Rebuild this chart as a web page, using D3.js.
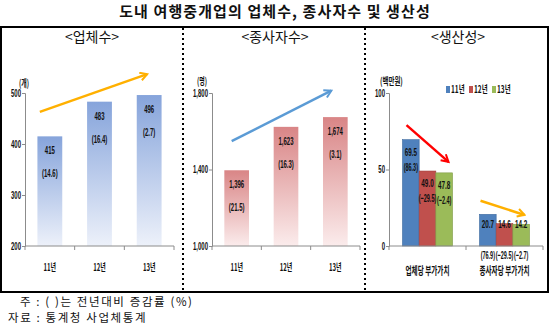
<!DOCTYPE html>
<html><head><meta charset="utf-8">
<script src="https://cdn.jsdelivr.net/npm/d3@7"></script>
<style>body{margin:0;background:#fff}svg{display:block}</style>
</head><body>
<script>
// ---------- data ----------
const years = ["11년", "12년", "13년"];
const firmCounts = [415, 483, 496];
const firmChange = [14.6, 16.4, 2.7];
const workerCounts = [1396, 1623, 1674];
const workerChange = [21.5, 16.3, 3.1];
const prodCategories = ["업체당 부가가치", "종사자당 부가가치"];
const valuePerFirm = [69.5, 49.0, 47.8];
const valuePerFirmChange = [86.3, -29.5, -2.4];
const valuePerWorker = [20.7, 14.6, 14.2];
const valuePerWorkerChange = [76.9, -29.5, -2.7];
const firmTicks = [200, 300, 400, 500];
const workerTicks = [1000, 1400, 1800];
const prodTicks = [0, 50, 100];
const titleText = "도내 여행중개업의 업체수, 종사자수 및 생산성";
const panelTitles = ["<업체수>", "<종사자수>", "<생산성>"];
const units = ["(개)", "(명)", "(백만원)"];
const notes = ["주 : ( )는 전년대비 증감률 (%)", "자료 : 통계청 사업체통계"];

// ---------- setup ----------
const W = 550, H = 325;
const KR = "'Noto Sans CJK KR','Noto Sans',sans-serif";
const NUM = "'Liberation Sans',Arial,'Noto Sans CJK KR',sans-serif";
const svg = d3.select("body").append("svg").attr("width", W).attr("height", H);
const defs = svg.append("defs");

function sq(parent, x, y, text, o = {}) {
  const g = parent.append("g").attr("transform", `translate(${x},${y}) scale(${o.sx || 1},1)`);
  return g.append("text").text(text)
    .attr("text-anchor", o.anchor || "middle")
    .attr("font-family", o.family || NUM)
    .attr("font-size", o.size || 10)
    .attr("font-weight", o.weight || "bold")
    .attr("fill", o.fill || "#111");
}

function grad(id, top, bottom) {
  const g = defs.append("linearGradient").attr("id", id)
    .attr("x1", 0).attr("y1", 0).attr("x2", 0).attr("y2", 1);
  g.append("stop").attr("offset", "0%").attr("stop-color", top);
  g.append("stop").attr("offset", "100%").attr("stop-color", bottom);
}
grad("gBlue", "#86a4db", "#edf1fa");
grad("gRed", "#d98586", "#fbecec");

function marker(id, color) {
  defs.append("marker").attr("id", id)
    .attr("viewBox", "0 0 10 10").attr("refX", 8).attr("refY", 5)
    .attr("markerWidth", 10).attr("markerHeight", 10)
    .attr("markerUnits", "userSpaceOnUse").attr("orient", "auto")
    .append("path").attr("d", "M1,1 L8,5 L1,9")
    .attr("fill", "none").attr("stroke", color).attr("stroke-width", 2);
}
marker("mOrange", "#ffb000");
marker("mBlue", "#5b9bd5");
marker("mRed", "#ff0000");

function arrow(x1, y1, x2, y2, color, mid) {
  svg.append("line").attr("x1", x1).attr("y1", y1).attr("x2", x2).attr("y2", y2)
    .attr("stroke", color).attr("stroke-width", 2.5).attr("marker-end", `url(#${mid})`);
}

// ---------- title & frame ----------
svg.append("text").attr("x", 275).attr("y", 17).attr("text-anchor", "middle")
  .attr("font-family", KR).attr("font-size", 15).attr("font-weight", "bold")
  .attr("letter-spacing", 1.1).attr("fill", "#111").text(titleText);

svg.append("rect").attr("x", 1).attr("y", 27).attr("width", 547).attr("height", 265)
  .attr("fill", "none").attr("stroke", "#000").attr("stroke-width", 2);
[183, 365].forEach(x => svg.append("line").attr("x1", x).attr("x2", x).attr("y1", 28).attr("y2", 291)
  .attr("stroke", "#000").attr("stroke-width", 2).attr("stroke-dasharray", "2,3"));

[92, 275, 458].forEach((cx, i) => svg.append("text").attr("x", cx).attr("y", 42)
  .attr("text-anchor", "middle").attr("font-family", KR).attr("font-size", 14)
  .attr("fill", "#111").text(panelTitles[i]));

const Y0 = 246, Y1 = 93;

function yAxis(y, x0, ticks) {
  const g = svg.append("g").attr("transform", `translate(${x0},0)`)
    .call(d3.axisLeft(y).tickValues(ticks).tickSize(3).tickFormat(d3.format(",")));
  g.select(".domain").attr("stroke", "#8c8c8c");
  g.selectAll(".tick line").attr("stroke", "#8c8c8c");
  g.selectAll(".tick text").attr("transform", "scale(0.6,1)").attr("x", -4 / 0.6)
    .attr("font-family", NUM).attr("font-size", 10).attr("font-weight", "bold").attr("fill", "#111");
}
function xAxisLine(x, y0) {
  const [a, b] = x.range();
  svg.append("line").attr("x1", a).attr("x2", b).attr("y1", y0).attr("y2", y0)
    .attr("stroke", "#8c8c8c");
  const n = x.domain().length;
  for (let i = 0; i <= n; i++) {
    const xx = a + (b - a) * i / n;
    svg.append("line").attr("x1", xx).attr("x2", xx).attr("y1", y0).attr("y2", y0 + 4)
      .attr("stroke", "#8c8c8c");
  }
}

// ---------- simple panels ----------
function simplePanel(o) {
  const x = d3.scaleBand().domain(years).range([o.x0, o.x1]).paddingInner(0.5).paddingOuter(0.25);
  const y = d3.scaleLinear().domain(o.domain).range([Y0, Y1]);
  svg.selectAll(null).data(o.values).enter().append("rect")
    .attr("x", (d, i) => x(years[i])).attr("width", x.bandwidth())
    .attr("y", d => y(d)).attr("height", d => Y0 - y(d))
    .attr("fill", `url(#${o.grad})`);
  xAxisLine(x, Y0);
  yAxis(y, o.x0, o.ticks);
  years.forEach((yr, i) => {
    const cx = x(yr) + x.bandwidth() / 2, top = y(o.values[i]);
    sq(svg, cx, top + 18, d3.format(",")(o.values[i]), { size: 10, sx: 0.6 });
    sq(svg, cx, top + 41, "(" + d3.format(".1f")(o.changes[i]) + ")", { size: 10, sx: 0.6 });
    sq(svg, cx, 271, yr, { size: 10, sx: 0.6, family: KR });
  });
  sq(svg, o.unitX, o.unitY, o.unit, { size: 10, sx: 0.6, family: KR, anchor: "start" });
  const bw = x.bandwidth() / 2;
  arrow(x(years[0]) + bw + o.a[0], y(o.a[1]), x(years[2]) + bw + o.a[2], y(o.a[3]), o.aColor, o.aMarker);
}

simplePanel({ x0: 25, x1: 174, domain: [200, 500], ticks: firmTicks, values: firmCounts,
  changes: firmChange, grad: "gBlue", unit: units[0], unitX: 19, unitY: 87,
  a: [-10, 463, -2, 537], aColor: "#ffb000", aMarker: "mOrange" });
simplePanel({ x0: 212, x1: 360, domain: [1000, 1800], ticks: workerTicks, values: workerCounts,
  changes: workerChange, grad: "gRed", unit: units[1], unitX: 197, unitY: 85,
  a: [-5, 1548, -4, 1812], aColor: "#5b9bd5", aMarker: "mBlue" });

// ---------- productivity panel ----------
(function () {
  const seriesColors = ["#4f81bd", "#c0504d", "#9bbb59"];
  const strokeColors = ["#3e6aa0", "#a03f3c", "#7f9b47"];
  const x0 = d3.scaleBand().domain(prodCategories).range([389, 543]).paddingInner(0.35).paddingOuter(0.175);
  const x1 = d3.scaleBand().domain(years).range([0, x0.bandwidth()]);
  const y = d3.scaleLinear().domain([0, 100]).range([Y0, Y1]);
  const groups = [
    { cat: prodCategories[0], vals: valuePerFirm, chg: valuePerFirmChange, inside: true },
    { cat: prodCategories[1], vals: valuePerWorker, chg: valuePerWorkerChange, inside: false }
  ];
  groups.forEach(gd => {
    gd.vals.forEach((v, i) => {
      const bx = x0(gd.cat) + x1(years[i]);
      svg.append("rect").attr("x", bx).attr("width", x1.bandwidth())
        .attr("y", y(v)).attr("height", Y0 - y(v))
        .attr("fill", seriesColors[i]).attr("stroke", strokeColors[i]).attr("stroke-width", 0.6);
    });
  });
  groups.forEach(gd => {
    gd.vals.forEach((v, i) => {
      const cx = x0(gd.cat) + x1(years[i]) + x1.bandwidth() / 2;
      const top = y(v);
      const ly = Math.min(top + 12, Y0 - 22);
      sq(svg, cx, ly + 4, d3.format(".1f")(v), { size: 11.5, sx: 0.55 });
      const ct = "(" + d3.format(".1f")(gd.chg[i]) + ")";
      if (gd.inside) sq(svg, cx, top + 31, ct, { size: 11, sx: 0.5 });
      else sq(svg, cx, 259, ct, { size: 11, sx: 0.5 });
    });
    sq(svg, x0(gd.cat) + x0.bandwidth() / 2, 275, gd.cat, { size: 11, sx: 0.6, family: KR });
  });
  xAxisLine(d3.scaleBand().domain(prodCategories).range([389, 543]), Y0);
  yAxis(y, 389, prodTicks);
  sq(svg, 380, 85, units[2], { size: 10, sx: 0.65, family: KR, anchor: "start" });

  // legend
  const lx = [446, 469, 492];
  years.forEach((yr, i) => {
    svg.append("rect").attr("x", lx[i]).attr("y", 86).attr("width", 4).attr("height", 7)
      .attr("fill", seriesColors[i]);
    sq(svg, lx[i] + 5, 93, yr, { size: 10, sx: 0.65, family: KR, anchor: "start" });
  });

  const c1 = x0(prodCategories[0]) + x0.bandwidth() / 2, c2 = x0(prodCategories[1]) + x0.bandwidth() / 2;
  arrow(c1 - 21, y(79), c1 + 21, y(55), "#ff0000", "mRed");
  arrow(c2 - 24, y(29.6), c2 + 20, y(20.3), "#ffb000", "mOrange");
})();

// ---------- notes ----------
svg.append("text").attr("x", 20).attr("y", 305.5).attr("font-family", KR).attr("font-size", 11.5)
  .attr("letter-spacing", 1.6).attr("fill", "#111").text(notes[0]);
svg.append("text").attr("x", 8).attr("y", 321.5).attr("font-family", KR).attr("font-size", 11.5)
  .attr("letter-spacing", 1.6).attr("fill", "#111").text(notes[1]);
</script>
</body></html>
